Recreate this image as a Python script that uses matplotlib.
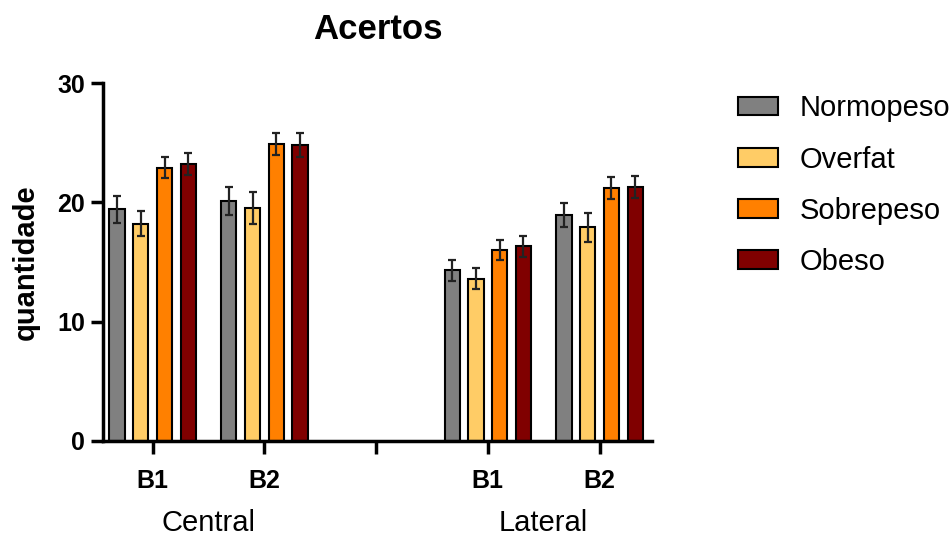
import matplotlib.pyplot as plt
from matplotlib.patches import Patch
import numpy as np

plt.rcParams['font.family'] = ['Liberation Sans', 'DejaVu Sans']

groups = ['Normopeso', 'Overfat', 'Sobrepeso', 'Obeso']
colors = ['#808080', '#FFCC66', '#FF8000', '#800000']
tick_labels = ['B1', 'B2', '', 'B1', 'B2']
positions = [0, 1, 3, 4]
regions = ['Central', 'Lateral']

# medias por grupo nas posicoes Central B1, Central B2, Lateral B1, Lateral B2
means = {
    'Normopeso': [19.4, 20.1, 14.3, 18.9],
    'Overfat': [18.2, 19.5, 13.6, 17.9],
    'Sobrepeso': [22.9, 24.9, 16.0, 21.2],
    'Obeso': [23.2, 24.8, 16.3, 21.3],
}
errors = {
    'Normopeso': [1.1, 1.15, 0.9, 1.0],
    'Overfat': [1.05, 1.35, 0.9, 1.2],
    'Sobrepeso': [0.9, 0.9, 0.85, 0.9],
    'Obeso': [0.95, 1.0, 0.85, 0.9],
}

fig = plt.figure(figsize=(9.52, 5.39), dpi=100)
ax = fig.add_axes([0.108, 0.182, 0.577, 0.664])

width = 0.137
step = 0.2125
for i, g in enumerate(groups):
    x = np.array(positions) + (i - 1.5) * step
    ax.bar(x, means[g], width=width, color=colors[i], edgecolor='black', linewidth=1.5,
           yerr=errors[g], error_kw={'elinewidth': 1.6, 'capsize': 3, 'capthick': 1.6, 'ecolor': '#222222'})

ax.set_ylim(0, 30)
ax.set_xlim(-0.446, 4.47)
ax.set_yticks([0, 10, 20, 30])
ax.set_xticks(range(5))
ax.set_xticklabels(tick_labels, fontweight='bold', fontsize=18)
for lbl in ax.get_yticklabels():
    lbl.set_fontweight('bold')
    lbl.set_fontsize(18)
ax.tick_params(width=2.5, length=9, pad=4)
ax.tick_params(axis='x', pad=11)
for s in ['top', 'right']:
    ax.spines[s].set_visible(False)
for s in ['left', 'bottom']:
    ax.spines[s].set_linewidth(2.5)

ax.set_ylabel('quantidade', fontweight='bold', fontsize=21, labelpad=12)
ax.set_title('Acertos', fontweight='bold', fontsize=25, pad=32)

ax.text(0.5, -0.229, regions[0], transform=ax.get_xaxis_transform(), ha='center', va='center', fontsize=21)
ax.text(3.5, -0.229, regions[1], transform=ax.get_xaxis_transform(), ha='center', va='center', fontsize=21)

handles = [Patch(facecolor=c, edgecolor='black', linewidth=1.5) for c in colors]
fig.legend(handles, groups, loc='upper left', bbox_to_anchor=(0.751, 0.868), frameon=False,
           fontsize=21, handlelength=1.36, handleheight=0.6, labelspacing=0.79, handletextpad=0.75,
           borderpad=0.3)

fig.savefig('out.png', dpi=100)
